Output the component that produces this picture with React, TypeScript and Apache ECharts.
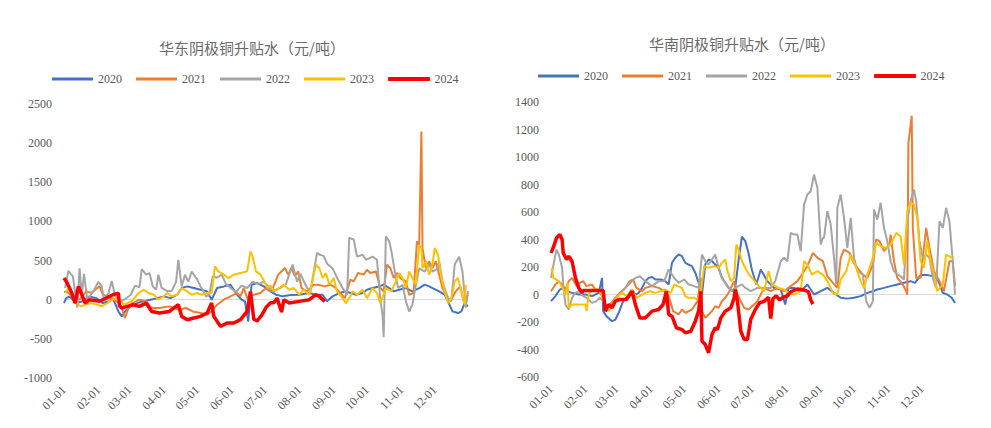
import React, { useEffect, useRef } from "react";
import * as echarts from "echarts";

const years = ["2020", "2021", "2022", "2023", "2024"];
const colors = ["#4472C4", "#ED7D31", "#A5A5A5", "#FFC000", "#FF0000"];
const monthLengths = [31, 28, 31, 30, 31, 30, 31, 31, 30, 31, 30, 31];
const eastTitle = "华东阴极铜升贴水（元/吨）";
const southTitle = "华南阴极铜升贴水（元/吨）";

// [day-of-year index, value]
const east2020: [number, number][] = [[0,-43],[2,20],[5,43],[11,-43],[17,-20],[23,43],[29,20],[35,-43],[41,-20],[44,20],[49,-150],[52,-213],[55,-150],[60,-85],[66,-43],[72,-20],[78,0],[84,20],[90,43],[96,20],[102,64],[106,149],[111,170],[117,149],[123,128],[129,106],[133,0],[138,149],[144,170],[150,192],[156,64],[160,0],[163,-20],[166,-277],[169,192],[174,213],[180,170],[186,106],[191,64],[197,43],[204,60],[212,64],[221,85],[227,64],[233,64],[237,-20],[242,43],[248,85],[254,106],[258,85],[263,64],[269,85],[273,128],[278,149],[284,170],[288,192],[293,149],[297,106],[302,128],[308,149],[314,106],[320,149],[325,192],[329,170],[332,149],[338,106],[343,64],[346,-20],[350,-149],[355,-170],[358,-149],[361,-43],[364,-85]];
const east2021: [number, number][] = [[0,100],[2,106],[8,43],[14,0],[20,106],[25,85],[28,128],[32,170],[35,64],[40,43],[47,-20],[50,-43],[53,-150],[55,-234],[58,-106],[62,-43],[68,0],[74,-20],[79,-106],[86,-106],[95,-85],[104,-128],[110,-106],[116,-150],[123,-170],[129,-192],[133,-150],[138,-64],[144,0],[150,43],[153,64],[156,85],[159,43],[162,150],[165,20],[171,64],[177,85],[182,149],[187,106],[193,320],[199,405],[202,320],[205,405],[208,300],[211,362],[214,149],[219,106],[225,192],[229,192],[235,170],[240,192],[245,149],[249,85],[253,20],[258,256],[261,234],[265,341],[270,320],[273,383],[276,341],[281,362],[285,149],[288,106],[291,447],[294,405],[297,277],[300,341],[303,277],[308,234],[311,64],[315,85],[318,745],[320,700],[322,2150],[323,660],[326,405],[329,490],[332,405],[335,490],[338,320],[341,149],[344,64],[348,-20],[353,106],[357,170],[360,-20],[364,64]];
const east2022: [number, number][] = [[1,150],[4,370],[6,330],[8,300],[10,100],[12,-100],[14,400],[16,50],[18,330],[21,0],[24,60],[27,120],[31,230],[34,170],[36,0],[40,80],[43,240],[46,50],[50,-20],[54,0],[60,60],[64,180],[68,160],[70,390],[74,320],[77,340],[80,170],[83,130],[85,320],[88,150],[93,110],[97,110],[101,230],[103,510],[106,170],[109,320],[112,230],[115,360],[120,260],[123,170],[126,100],[128,40],[131,70],[134,300],[138,280],[142,320],[146,200],[150,150],[155,100],[160,180],[165,150],[170,230],[175,200],[180,230],[185,150],[190,120],[195,150],[200,200],[206,450],[210,230],[213,330],[219,150],[222,100],[228,600],[231,570],[234,560],[237,460],[242,400],[246,280],[251,150],[255,60],[257,790],[261,770],[264,550],[269,575],[272,510],[278,550],[282,510],[285,0],[287,-190],[288,-480],[290,810],[293,745],[295,620],[298,360],[301,150],[305,190],[308,-20],[311,-150],[314,-60],[317,190],[320,400],[325,360],[329,450],[332,360],[337,400],[338,490],[341,230],[346,20],[349,-20],[352,450],[356,550],[359,360],[362,-100],[364,110]];
const east2023: [number, number][] = [[1,85],[4,149],[7,85],[10,-20],[15,-85],[19,-64],[24,-43],[30,-64],[34,-85],[39,-43],[43,0],[48,20],[51,0],[54,-64],[57,-43],[61,-20],[67,85],[72,128],[76,85],[81,64],[85,0],[90,43],[93,85],[97,43],[102,64],[106,149],[111,106],[115,64],[120,85],[124,64],[129,85],[133,85],[136,426],[139,362],[144,320],[148,277],[153,320],[159,341],[165,362],[168,618],[170,550],[173,362],[177,320],[180,250],[183,150],[186,180],[189,106],[194,149],[198,192],[203,128],[207,149],[212,64],[216,128],[221,64],[227,447],[230,405],[233,277],[236,341],[239,192],[243,277],[246,106],[251,20],[254,-43],[257,20],[260,106],[264,64],[269,128],[273,20],[278,149],[282,85],[285,-43],[290,149],[295,106],[299,234],[302,341],[305,277],[308,149],[311,362],[314,277],[317,192],[320,703],[322,660],[323,405],[326,490],[329,320],[332,447],[334,660],[337,575],[340,277],[343,106],[346,-43],[349,20],[352,234],[355,277],[358,106],[361,-64],[362,192]];
const east2024: [number, number][] = [[0,277],[2,234],[5,150],[7,85],[10,-43],[13,170],[16,64],[19,-43],[23,0],[32,-20],[38,20],[44,64],[49,85],[50,-80],[52,-106],[57,-85],[62,-64],[68,-85],[74,-43],[79,-150],[86,-170],[95,-150],[103,-64],[106,-213],[111,-255],[117,-234],[123,-213],[129,-170],[133,-43],[135,-213],[138,-277],[141,-340],[147,-298],[153,-298],[159,-255],[165,-150],[168,106],[171,-250],[174,-270],[178,-200],[182,-100],[186,-40],[189,-40],[192,20],[196,-158],[198,0],[203,-43],[212,-21],[221,0],[227,64],[230,43],[235,-21]];

const south2020: [number, number][] = [[0,-48],[4,-12],[8,36],[11,48],[14,24],[19,12],[25,0],[31,0],[37,-12],[43,12],[46,121],[47,-121],[50,-158],[55,-194],[58,-182],[61,-133],[65,-48],[70,0],[73,36],[76,0],[79,12],[82,48],[85,97],[88,121],[91,127],[94,109],[99,109],[103,97],[106,73],[109,230],[112,267],[115,291],[118,279],[121,230],[124,218],[127,206],[130,158],[133,85],[136,0],[139,218],[142,255],[145,242],[148,218],[151,194],[154,121],[157,85],[160,48],[163,24],[166,50],[169,250],[172,420],[175,390],[178,300],[181,180],[185,73],[189,182],[195,97],[201,48],[207,36],[211,-73],[214,48],[219,48],[225,24],[231,73],[237,0],[243,24],[249,48],[255,12],[261,-24],[267,-30],[273,-24],[279,-12],[285,12],[290,24],[294,36],[300,48],[306,61],[312,73],[318,85],[324,97],[328,85],[333,141],[339,141],[345,133],[349,100],[353,12],[357,0],[361,-24],[364,-61]];
const south2021: [number, number][] = [[0,24],[4,73],[7,97],[10,73],[13,36],[16,97],[19,121],[23,61],[26,85],[29,97],[32,61],[37,73],[40,36],[43,24],[47,-24],[50,-97],[53,-73],[58,-24],[62,12],[67,48],[71,97],[74,109],[77,48],[82,24],[85,48],[91,61],[97,48],[102,24],[106,-12],[110,-121],[115,-145],[118,-109],[121,-133],[127,-109],[132,-48],[135,121],[136,-121],[139,-170],[142,-145],[145,-121],[148,-85],[151,-97],[154,-48],[157,-24],[160,12],[165,97],[168,0],[174,-97],[178,-109],[183,-73],[186,-48],[192,48],[198,24],[204,48],[210,24],[216,61],[222,97],[225,133],[228,170],[231,206],[236,303],[240,267],[245,242],[249,133],[254,85],[258,48],[261,267],[264,327],[269,303],[272,242],[276,194],[281,145],[285,121],[290,218],[293,400],[296,388],[300,315],[305,364],[306,436],[309,242],[312,121],[317,73],[320,24],[321,0],[322,1100],[325,1300],[326,485],[329,121],[333,121],[338,485],[341,339],[345,170],[350,97],[354,24],[359,242],[362,242],[364,61]];
const south2022: [number, number][] = [[0,121],[4,291],[5,327],[7,291],[10,194],[11,73],[13,-73],[16,-109],[19,-24],[22,12],[25,24],[29,-12],[32,-24],[37,-61],[41,-48],[44,-24],[47,-48],[50,-97],[55,-61],[59,-24],[64,24],[70,73],[76,121],[80,133],[85,97],[91,61],[97,97],[102,97],[106,182],[111,121],[115,85],[120,109],[124,73],[129,61],[133,48],[136,291],[139,242],[142,218],[145,255],[148,291],[151,194],[154,121],[159,61],[163,24],[166,48],[169,61],[172,73],[175,48],[180,24],[186,48],[192,48],[198,48],[202,97],[207,242],[210,267],[213,242],[216,448],[219,436],[222,436],[225,315],[228,654],[231,727],[234,751],[237,873],[240,776],[243,364],[245,412],[246,412],[249,606],[252,509],[255,267],[257,73],[258,630],[261,727],[264,557],[267,339],[270,557],[273,267],[276,170],[281,145],[284,-48],[287,-97],[290,-48],[291,618],[294,545],[297,667],[300,485],[303,388],[306,242],[309,170],[312,145],[315,133],[318,109],[321,533],[324,679],[327,763],[329,679],[332,388],[335,267],[338,291],[341,267],[344,121],[347,48],[350,533],[353,485],[356,630],[359,533],[362,242],[364,0]];
const south2023: [number, number][] = [[1,194],[2,121],[5,109],[8,85],[11,36],[13,0],[15,85],[16,-97],[19,-73],[25,-73],[31,-73],[32,-121],[34,0],[37,36],[43,36],[46,0],[49,-97],[52,-121],[55,-85],[59,-24],[64,12],[68,-12],[73,36],[77,-24],[80,-12],[85,12],[89,24],[94,12],[99,24],[103,36],[108,12],[111,73],[114,61],[118,48],[121,-12],[124,-24],[129,-24],[132,-36],[135,24],[138,206],[142,194],[147,206],[151,194],[154,230],[157,255],[159,170],[162,97],[165,121],[167,364],[169,327],[172,242],[175,194],[178,150],[181,121],[186,73],[192,24],[196,170],[199,73],[205,48],[210,36],[214,12],[219,0],[225,24],[228,242],[231,218],[235,145],[240,170],[245,145],[249,97],[254,12],[258,0],[261,109],[266,170],[270,291],[275,194],[279,97],[282,48],[285,145],[290,267],[293,376],[297,352],[302,339],[306,364],[311,448],[315,424],[318,218],[321,606],[324,667],[327,655],[330,558],[333,242],[336,194],[339,388],[342,242],[345,145],[348,24],[353,73],[356,291],[361,267],[363,267]];
const south2024: [number, number][] = [[0,303],[2,340],[5,412],[8,436],[10,400],[11,303],[14,255],[16,279],[19,240],[22,121],[25,48],[28,12],[29,29],[47,29],[49,-121],[52,-73],[55,-97],[58,-48],[62,-36],[68,-36],[73,24],[76,-73],[80,-170],[85,-170],[91,-121],[97,-109],[101,-73],[104,24],[106,-145],[109,-158],[113,-242],[118,-255],[121,-279],[126,-267],[130,-194],[133,-121],[135,24],[136,-339],[139,-364],[142,-424],[145,-291],[148,-242],[150,-255],[153,-170],[157,-121],[162,-97],[165,-24],[166,36],[168,-48],[171,-267],[174,-327],[177,-327],[180,-180],[184,-110],[188,-60],[192,-50],[196,-20],[198,-175],[200,-30],[203,-10],[206,-40],[209,-20],[213,-10],[216,20],[219,30],[222,40],[226,35],[229,30],[232,20],[234,-40],[236,-70]];

const eastSeries = [east2020, east2021, east2022, east2023, east2024];
const southSeries = [south2020, south2021, south2022, south2023, south2024];

const days: string[] = [];
monthLengths.forEach((len, m) => {
  for (let d = 1; d <= len; d++) {
    days.push(String(m + 1).padStart(2, "0") + "-" + String(d).padStart(2, "0"));
  }
});

const serif = "Liberation Serif";
const gray = "#595959";

export default function App() {
  const ref = useRef<HTMLDivElement>(null);
  useEffect(() => {
    if (!ref.current) return;
    const chart = echarts.init(ref.current, null, { renderer: "svg" });
    const makeX = (gi: number) => ({
      type: "category",
      gridIndex: gi,
      data: days,
      boundaryGap: false,
      axisLine: { show: false },
      axisTick: { show: false },
      axisLabel: {
        interval: (_i: number, v: string) => v.endsWith("-01"),
        rotate: 45,
        margin: 10,
        color: gray,
        fontFamily: serif,
        fontSize: 12,
      },
      splitLine: { show: false },
    });
    const makeY = (gi: number, min: number, max: number, interval: number) => ({
      type: "value",
      gridIndex: gi,
      min,
      max,
      interval,
      axisLine: { show: false },
      axisTick: { show: false },
      splitLine: { show: false },
      axisLabel: {
        color: gray,
        fontFamily: serif,
        fontSize: 12,
        margin: 12,
        formatter: (v: number) => String(v),
      },
    });
    const series: any[] = [];
    [eastSeries, southSeries].forEach((group, gi) => {
      group.forEach((data, i) => {
        series.push({
          type: "line",
          name: years[i],
          xAxisIndex: gi,
          yAxisIndex: gi,
          data,
          symbol: "none",
          showSymbol: false,
          color: colors[i],
          lineStyle: { color: colors[i], width: i === 4 ? 3.5 : 2 },
          z: 2 + i,
          markLine:
            i === 0
              ? {
                  silent: true,
                  symbol: "none",
                  label: { show: false },
                  lineStyle: { color: "#D9D9D9", width: 1, type: "solid" },
                  data: [{ yAxis: 0 }],
                  z: 1,
                }
              : undefined,
        });
      });
    });
    const legendData = years.map((y, i) =>
      i === 4
        ? { name: y, icon: "rect", itemStyle: { color: colors[i], borderColor: colors[i], borderWidth: 1 } }
        : { name: y, icon: "rect", itemStyle: { color: colors[i], borderWidth: 0 } }
    );
    const legendCommon = {
      data: legendData,
      itemWidth: 41,
      itemHeight: 3,
      itemGap: 14,
      padding: 0,
      textStyle: { color: gray, fontFamily: serif, fontSize: 12 },
    };
    const titleStyle = { color: "#6a6a6a", fontSize: 15, fontWeight: "normal", fontFamily: "Noto Sans CJK SC" };
    chart.setOption({
      animation: false,
      title: [
        { text: eastTitle, left: 247, top: 35, textAlign: "center", textStyle: titleStyle },
        { text: southTitle, left: 737, top: 31, textAlign: "center", textStyle: titleStyle },
      ],
      legend: [
        { ...legendCommon, left: 52, top: 73 },
        { ...legendCommon, left: 538, top: 70 },
      ],
      grid: [
        { left: 64, top: 104, width: 404, height: 274 },
        { left: 551, top: 102, width: 404, height: 275 },
      ],
      xAxis: [makeX(0), makeX(1)],
      yAxis: [makeY(0, -1000, 2500, 500), makeY(1, -600, 1400, 200)],
      series,
    });
    return () => chart.dispose();
  }, []);
  return (
    <div
      ref={ref}
      style={{ position: "fixed", left: 0, top: 0, width: 991, height: 428, background: "#fff" }}
    />
  );
}
